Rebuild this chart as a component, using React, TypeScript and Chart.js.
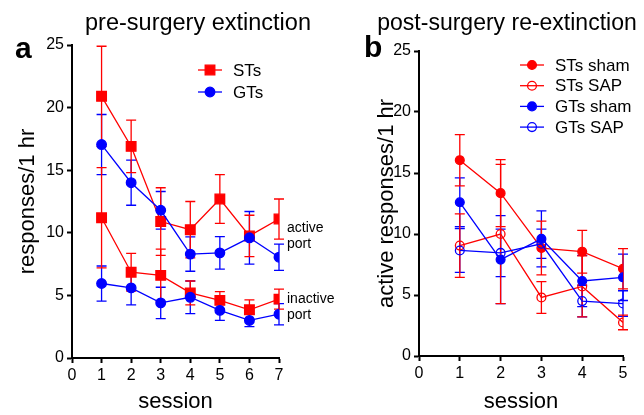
import React, { useEffect, useRef } from 'react';
import { Chart, registerables } from 'chart.js';

Chart.register(...registerables);

const FONT = '"Liberation Sans", Arial, Helvetica, sans-serif';

// ---------- Panel a: pre-surgery extinction ----------
const sessionsA = [1, 2, 3, 4, 5, 6, 7];
const xTicksA = [0, 1, 2, 3, 4, 5, 6, 7];
const yTicksA = [0, 5, 10, 15, 20, 25];
const stsActive = [20.9, 16.9, 10.9, 10.25, 12.7, 9.75, 11.1];
const stsActiveErr = [4.0, 2.1, 2.7, 2.25, 1.95, 1.65, 1.6];
const gtsActive = [17.05, 14.0, 11.8, 8.3, 8.4, 9.6, 8.05];
const gtsActiveErr = [2.4, 1.8, 1.5, 1.37, 1.3, 2.1, 1.05];
const stsInactive = [11.2, 6.85, 6.6, 5.2, 4.6, 3.85, 4.7];
const stsInactiveErr = [4.0, 1.5, 2.1, 0.95, 0.7, 0.8, 0.8];
const gtsInactive = [5.95, 5.6, 4.4, 4.85, 3.8, 3.0, 3.5];
const gtsInactiveErr = [1.4, 1.36, 1.25, 1.3, 0.8, 0.5, 0.85];
const legendA = ['STs', 'GTs'];

// ---------- Panel b: post-surgery re-extinction ----------
const sessionsB = [1, 2, 3, 4, 5];
const xTicksB = [0, 1, 2, 3, 4, 5];
const yTicksB = [0, 5, 10, 15, 20, 25];
const stsSham = [16.05, 13.35, 8.85, 8.55, 7.15];
const stsShamErr = [2.1, 2.75, 2.2, 1.75, 1.65];
const stsSAP = [9.05, 10.0, 4.8, 5.7, 2.75];
const stsSAPErr = [2.6, 5.7, 1.3, 2.5, 0.6];
const gtsSham = [12.6, 7.9, 9.6, 6.15, 6.45];
const gtsShamErr = [2.0, 3.6, 2.3, 2.1, 1.9];
const gtsSAP = [8.65, 8.45, 9.2, 4.5, 4.3];
const gtsSAPErr = [1.8, 1.95, 1.2, 1.3, 1.05];
const legendB = ['STs sham', 'STs SAP', 'GTs sham', 'GTs SAP'];

const RED = '#ff0000';
const BLUE = '#0000ff';

const pts = (xs: number[], ys: number[]) => xs.map((x, i) => ({ x, y: ys[i] }));

const errorBarsPlugin = {
  id: 'errorBars',
  beforeDatasetsDraw(chart: any) {
    const { ctx } = chart;
    const xs = chart.scales.x;
    const ys = chart.scales.y;
    chart.data.datasets.forEach((ds: any) => {
      const errs = ds.errors;
      if (!errs) return;
      ctx.save();
      ctx.strokeStyle = ds.borderColor;
      ctx.lineWidth = 1.3;
      ds.data.forEach((p: any, i: number) => {
        const e = errs[i];
        const px = xs.getPixelForValue(p.x);
        const yt = ys.getPixelForValue(p.y + e);
        const yb = ys.getPixelForValue(p.y - e);
        ctx.beginPath();
        ctx.moveTo(px, yt);
        ctx.lineTo(px, yb);
        ctx.moveTo(px - 5, yt);
        ctx.lineTo(px + 5, yt);
        ctx.moveTo(px - 5, yb);
        ctx.lineTo(px + 5, yb);
        ctx.stroke();
      });
      ctx.restore();
    });
  },
};

function drawMarker(ctx: any, style: string, x: number, y: number, r: number, color: string, fill: string) {
  ctx.beginPath();
  if (style === 'rect') {
    const s = r * Math.SQRT1_2;
    ctx.rect(x - s, y - s, 2 * s, 2 * s);
  } else {
    ctx.arc(x, y, r, 0, Math.PI * 2);
  }
  ctx.fillStyle = fill;
  ctx.fill();
  ctx.strokeStyle = color;
  ctx.lineWidth = 1.3;
  ctx.stroke();
}

function makeDecor(cfg: any) {
  return {
    id: 'decor' + cfg.letter,
    afterDraw(chart: any) {
      const { ctx } = chart;
      ctx.save();
      ctx.fillStyle = '#000';
      ctx.textBaseline = 'alphabetic';
      ctx.textAlign = 'left';
      ctx.font = `bold 30px ${FONT}`;
      ctx.fillText(cfg.letter, cfg.letterX, cfg.letterY);
      ctx.textAlign = 'center';
      ctx.font = `${cfg.titleSize}px ${FONT}`;
      ctx.fillText(cfg.title, cfg.titleX, cfg.titleY);
      // legend
      cfg.legend.forEach((item: any, k: number) => {
        const ds = chart.data.datasets[item.datasetIndex];
        const y = cfg.legendY + k * cfg.legendStep;
        const cx = cfg.legendX;
        ctx.strokeStyle = ds.borderColor;
        ctx.lineWidth = 1.3;
        ctx.beginPath();
        ctx.moveTo(cx - 12, y);
        ctx.lineTo(cx + 12, y);
        ctx.stroke();
        drawMarker(ctx, ds.pointStyle, cx, y, ds.pointRadius, ds.borderColor, ds.pointBackgroundColor);
        ctx.fillStyle = '#000';
        ctx.textAlign = 'left';
        ctx.textBaseline = 'middle';
        ctx.font = `17px ${FONT}`;
        ctx.fillText(item.label, cx + 23, y + 1);
      });
      // side notes
      if (cfg.notes) {
        const xs = chart.scales.x;
        const ys = chart.scales.y;
        ctx.font = `14px ${FONT}`;
        ctx.textAlign = 'left';
        ctx.textBaseline = 'middle';
        ctx.fillStyle = '#000';
        cfg.notes.forEach((n: any) => {
          const px = xs.getPixelForValue(n.x) + 8;
          const py = ys.getPixelForValue(n.y);
          n.lines.forEach((t: string, j: number) => ctx.fillText(t, px, py + j * 16));
        });
      }
      ctx.restore();
    },
  };
}

function axisOpts(p: any) {
  return {
    x: {
      type: 'linear',
      min: p.xMin,
      max: p.xMax,
      afterBuildTicks: (s: any) => {
        s.ticks = p.xTicks.map((v: number) => ({ value: v }));
      },
      afterFit: (s: any) => {
        s.height = p.xHeight;
      },
      border: { display: true, color: '#000', width: 2 },
      grid: { drawOnChartArea: false, drawTicks: true, tickLength: 5, tickWidth: 2, tickColor: '#000', color: '#000' },
      ticks: { color: '#000', font: { size: 16, family: FONT }, padding: 3, maxRotation: 0, autoSkip: false },
      title: { display: true, text: 'session', color: '#000', font: { size: 22, family: FONT, lineHeight: 1.1 }, padding: { top: 0, bottom: 1 } },
    },
    y: {
      type: 'linear',
      min: 0,
      max: 25,
      afterBuildTicks: (s: any) => {
        s.ticks = p.yTicks.map((v: number) => ({ value: v }));
      },
      afterFit: (s: any) => {
        s.width = p.yWidth;
      },
      border: { display: true, color: '#000', width: 2 },
      grid: { drawOnChartArea: false, drawTicks: true, tickLength: 5, tickWidth: 2, tickColor: '#000', color: '#000' },
      ticks: { color: '#000', font: { size: 16, family: FONT }, padding: 3, autoSkip: false },
      title: { display: true, text: p.yTitle, color: '#000', font: { size: 22, family: FONT }, padding: { top: p.yTitlePad, bottom: 0 } },
    },
  };
}

function ds(label: string, xs: number[], ys: number[], errs: number[], color: string, style: string, r: number, filled: boolean) {
  return {
    label,
    data: pts(xs, ys),
    errors: errs,
    borderColor: color,
    backgroundColor: color,
    borderWidth: 1.3,
    pointStyle: style,
    pointRadius: r,
    pointBorderWidth: 1.3,
    pointBorderColor: color,
    pointBackgroundColor: filled ? color : 'rgba(255,255,255,0)',
    tension: 0,
    fill: false,
  };
}

function PanelA() {
  const ref = useRef<HTMLCanvasElement>(null);
  useEffect(() => {
    const chart = new Chart(ref.current as HTMLCanvasElement, {
      type: 'line',
      data: {
        datasets: [
          ds('GTs', sessionsA, gtsActive, gtsActiveErr, BLUE, 'circle', 4.8, true),
          ds('GTs inactive', sessionsA, gtsInactive, gtsInactiveErr, BLUE, 'circle', 4.8, true),
          ds('STs', sessionsA, stsActive, stsActiveErr, RED, 'rect', 6.8, true),
          ds('STs inactive', sessionsA, stsInactive, stsInactiveErr, RED, 'rect', 6.8, true),
        ] as any,
      },
      options: {
        animation: false,
        responsive: false,
        devicePixelRatio: 1,
        layout: { padding: { left: 0, top: 45, right: 81, bottom: 0 } },
        plugins: { legend: { display: false }, tooltip: { enabled: false }, title: { display: false } },
        scales: axisOpts({ xMin: 0, xMax: 7, xTicks: xTicksA, yTicks: yTicksA, xHeight: 57, yWidth: 72, yTitle: 'responses/1 hr', yTitlePad: 15 }) as any,
      },
      plugins: [
        errorBarsPlugin,
        makeDecor({
          letter: 'a', letterX: 15, letterY: 58,
          title: 'pre-surgery extinction', titleX: 198, titleY: 30, titleSize: 23.5,
          legend: [{ datasetIndex: 2, label: legendA[0] }, { datasetIndex: 0, label: legendA[1] }],
          legendX: 210, legendY: 70, legendStep: 22,
          notes: [
            { lines: ['active', 'port'], x: 7, y: 10.4 },
            { lines: ['inactive', 'port'], x: 7, y: 4.7 },
          ],
        }),
      ],
    });
    return () => chart.destroy();
  }, []);
  return <canvas ref={ref} width={360} height={415} style={{ position: 'absolute', left: 0, top: 0, width: 360, height: 415 }} />;
}

function PanelB() {
  const ref = useRef<HTMLCanvasElement>(null);
  useEffect(() => {
    const chart = new Chart(ref.current as HTMLCanvasElement, {
      type: 'line',
      data: {
        datasets: [
          ds('GTs sham', sessionsB, gtsSham, gtsShamErr, BLUE, 'circle', 4.4, true),
          ds('GTs SAP', sessionsB, gtsSAP, gtsSAPErr, BLUE, 'circle', 4.4, false),
          ds('STs sham', sessionsB, stsSham, stsShamErr, RED, 'circle', 4.4, true),
          ds('STs SAP', sessionsB, stsSAP, stsSAPErr, RED, 'circle', 4.4, false),
        ] as any,
      },
      options: {
        animation: false,
        responsive: false,
        devicePixelRatio: 1,
        layout: { padding: { left: 0, top: 51, right: 21, bottom: 0 } },
        plugins: { legend: { display: false }, tooltip: { enabled: false }, title: { display: false } },
        scales: axisOpts({ xMin: 0, xMax: 5, xTicks: xTicksB, yTicks: yTicksB, xHeight: 59, yWidth: 97, yTitle: 'active responses/1 hr', yTitlePad: 52 }) as any,
      },
      plugins: [
        errorBarsPlugin,
        makeDecor({
          letter: 'b', letterX: 42, letterY: 57,
          title: 'post-surgery re-extinction', titleX: 185, titleY: 30, titleSize: 23,
          legend: [
            { datasetIndex: 2, label: legendB[0] },
            { datasetIndex: 3, label: legendB[1] },
            { datasetIndex: 0, label: legendB[2] },
            { datasetIndex: 1, label: legendB[3] },
          ],
          legendX: 210, legendY: 65, legendStep: 20.7,
        }),
      ],
    });
    return () => chart.destroy();
  }, []);
  return <canvas ref={ref} width={322} height={415} style={{ position: 'absolute', left: 322, top: 0, width: 322, height: 415 }} />;
}

export default function App() {
  return (
    <div style={{ position: 'fixed', left: 0, top: 0, width: 644, height: 415, background: '#fff', overflow: 'hidden' }}>
      <PanelA />
      <PanelB />
    </div>
  );
}
